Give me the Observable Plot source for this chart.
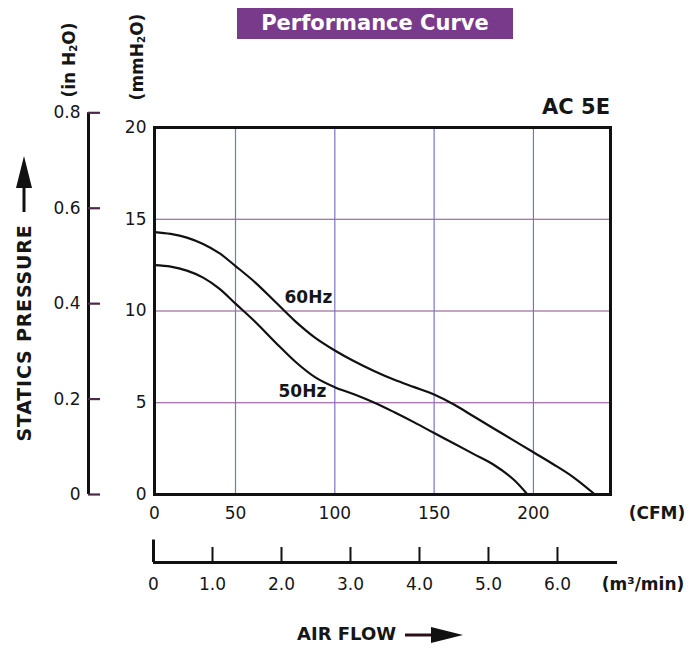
<!DOCTYPE html>
<html>
<head>
<meta charset="utf-8">
<script src="https://cdn.jsdelivr.net/npm/d3@7"></script>
<script src="https://cdn.jsdelivr.net/npm/@observablehq/plot@0.6"></script>
<style>
  html, body { margin: 0; padding: 0; background: #fff; }
  #wrap { position: relative; width: 699px; height: 648px; overflow: hidden; font-family: "DejaVu Sans", sans-serif; color: #161616; }
  #wrap svg.layer { position: absolute; left: 0; top: 0; background: transparent; }
  .lbl { position: absolute; font-weight: bold; white-space: nowrap; line-height: 1; }
  .c { transform: translate(-50%, -50%); }
  .rot { transform: translate(-50%, -50%) rotate(-90deg); }
  .sub { font-size: 0.6em; vertical-align: -0.15em; }
  #title { position: absolute; left: 237px; top: 8px; width: 276px; height: 31px; background: #7a3a8c; color: #fff; font-weight: bold; font-size: 21px; line-height: 31px; text-align: center; white-space: nowrap; }
</style>
</head>
<body>
<div id="wrap">
  <div id="title">Performance Curve</div>
  <div class="lbl rot" style="left:70px; top:60px; font-size:17px;">(in H<span class="sub">2</span>O)</div>
  <div class="lbl rot" style="left:138px; top:57px; font-size:17px;">(mmH<span class="sub">2</span>O)</div>
  <div class="lbl" style="right:89px; top:97px; font-size:21px;">AC 5E</div>
  <div class="lbl rot" style="left:24px; top:333px; font-size:19px; letter-spacing:0.8px;">STATICS PRESSURE</div>
  <div class="lbl c" style="left:657px; top:513px; font-size:17px;">(CFM)</div>
  <div class="lbl c" style="left:643px; top:584px; font-size:17px;">(m³/min)</div>
  <div class="lbl" style="left:297px; top:625px; font-size:18px;">AIR FLOW</div>
  <svg style="position:absolute; left:0; top:0;" width="699" height="648">
    <line x1="24" y1="212" x2="24" y2="184" stroke="#111" stroke-width="3"/>
    <polygon points="24,156 16,188 32,188" fill="#111"/>
    <line x1="405" y1="635" x2="436" y2="635" stroke="#2a0f18" stroke-width="3"/>
    <polygon points="463,635 431,627 431,643" fill="#111"/>
  </svg>
</div>
<script>
// ---- data ----
const cfm60 = [0, 10, 20, 30, 40, 50, 60, 70, 80, 90, 100, 110, 120, 130, 140, 150, 160, 170, 180, 190, 200, 210, 220, 231];
const mm60  = [14.3, 14.2, 14.0, 13.65, 13.15, 12.45, 11.55, 10.5, 9.45, 8.55, 7.85, 7.25, 6.72, 6.25, 5.85, 5.45, 4.9, 4.25, 3.6, 2.95, 2.3, 1.65, 0.95, 0];
const cfm50 = [0, 10, 20, 30, 40, 50, 60, 70, 80, 90, 100, 110, 120, 130, 140, 150, 160, 170, 180, 190, 197];
const mm50  = [12.5, 12.42, 12.2, 11.82, 11.22, 10.4, 9.4, 8.3, 7.25, 6.4, 5.85, 5.45, 5.0, 4.48, 3.93, 3.35, 2.78, 2.2, 1.62, 0.82, 0];

const seriesNames = ["60Hz", "50Hz"];
const labelCfm = [86.7, 83.7];
const labelMm = [10.74, 5.61];

const cfmTicks = [0, 50, 100, 150, 200];
const cfmGrid = [50, 100, 150, 200];
const cfmScaleBreaks = [0, 50, 238.8];   // the printed CFM axis is not uniform below 50
const mmTicks = [0, 5, 10, 15, 20];
const mmGrid = [5, 10, 15];
const inTicks = [0, 0.2, 0.4, 0.6, 0.8];
const inToMm = 26;                        // drawn ratio of the two pressure scales
const m3Ticks = [0, 1, 2, 3, 4, 5, 6];
const m3ScaleBreaks = [0, 1, 6.87];       // the printed m³/min axis is not uniform below 1

// ---- build tables ----
const rows = [
  ...cfm60.map((c, i) => ({hz: "60Hz", cfm: c, mm: mm60[i]})),
  ...cfm50.map((c, i) => ({hz: "50Hz", cfm: c, mm: mm50[i]}))
];
const curveLabels = seriesNames.map((s, i) => ({text: s, cfm: labelCfm[i], mm: labelMm[i]}));
const fmt1 = d3.format(".1f");

// piecewise warps applied by Plot's scale transform
const warpCfm = d3.scaleLinear().domain(cfmScaleBreaks).range([0, 81, 456]);
const warpM3 = d3.scaleLinear().domain(m3ScaleBreaks).range([0, 59, 464]);

const font = {fontFamily: "DejaVu Sans, sans-serif", fontSize: "17px", color: "#161616", background: "transparent", overflow: "visible"};

const main = Plot.plot({
  width: 699, height: 648,
  marginLeft: 154, marginRight: 89, marginTop: 127, marginBottom: 154,
  style: font,
  x: {transform: warpCfm, domain: [warpCfm(cfmScaleBreaks[0]), warpCfm(cfmScaleBreaks[2])], axis: null},
  y: {domain: [0, 20], axis: null},
  marks: [
    Plot.ruleY(mmGrid, {stroke: "#8a4c8e", strokeWidth: 1.2}),
    Plot.ruleX(cfmGrid, {stroke: "#7676c8", strokeWidth: 1.2}),
    Plot.line(rows, {x: "cfm", y: "mm", z: "hz", stroke: "#111", strokeWidth: 2.2, curve: "catmull-rom"}),
    Plot.text(curveLabels, {x: "cfm", y: "mm", text: "text", fontWeight: "bold", fontSize: 17, fill: "#161616"}),
    Plot.frame({stroke: "#111", strokeWidth: 3}),
    Plot.axisY(mmTicks, {anchor: "left", tickSize: 0, tickPadding: 8, fontSize: 17, label: null}),
    Plot.axisX(cfmTicks, {anchor: "bottom", tickSize: 0, tickPadding: 12, fontSize: 17, label: null}),
    Plot.ruleX([0], {y1: 0, y2: inTicks[inTicks.length - 1] * inToMm, dx: -66, stroke: "#111", strokeWidth: 3}),
    Plot.axisY(inTicks.map(v => v * inToMm), {anchor: "left", tickSize: 12, tickPadding: 8, dx: -54, stroke: "#4a2a48", strokeWidth: 2.2, fontSize: 17, label: null, tickFormat: d => d === 0 ? "0" : fmt1(d / inToMm)})
  ]
});
main.classList.add("layer");

const lower = Plot.plot({
  width: 699, height: 648,
  marginLeft: 153, marginRight: 82, marginTop: 0, marginBottom: 86,
  style: font,
  x: {transform: warpM3, domain: [warpM3(m3ScaleBreaks[0]), warpM3(m3ScaleBreaks[2])], axis: null},
  y: {domain: [0, 1], range: [562, 547], axis: null},
  marks: [
    Plot.ruleY([0], {x1: m3ScaleBreaks[0], x2: m3ScaleBreaks[m3ScaleBreaks.length - 1], stroke: "#111", strokeWidth: 3}),
    Plot.ruleX(m3Ticks.filter(d => d > 0), {y1: 0, y2: 1, stroke: "#111", strokeWidth: 2}),
    Plot.ruleX([0], {y1: 0, y2: 1.5, stroke: "#111", strokeWidth: 3}),
    Plot.axisX(m3Ticks, {anchor: "bottom", tickSize: 0, tickPadding: 15, fontSize: 17, label: null, tickFormat: d => d === 0 ? "0" : fmt1(d)})
  ]
});
lower.classList.add("layer");

const wrap = document.getElementById("wrap");
wrap.appendChild(main);
wrap.appendChild(lower);
</script>
</body>
</html>
